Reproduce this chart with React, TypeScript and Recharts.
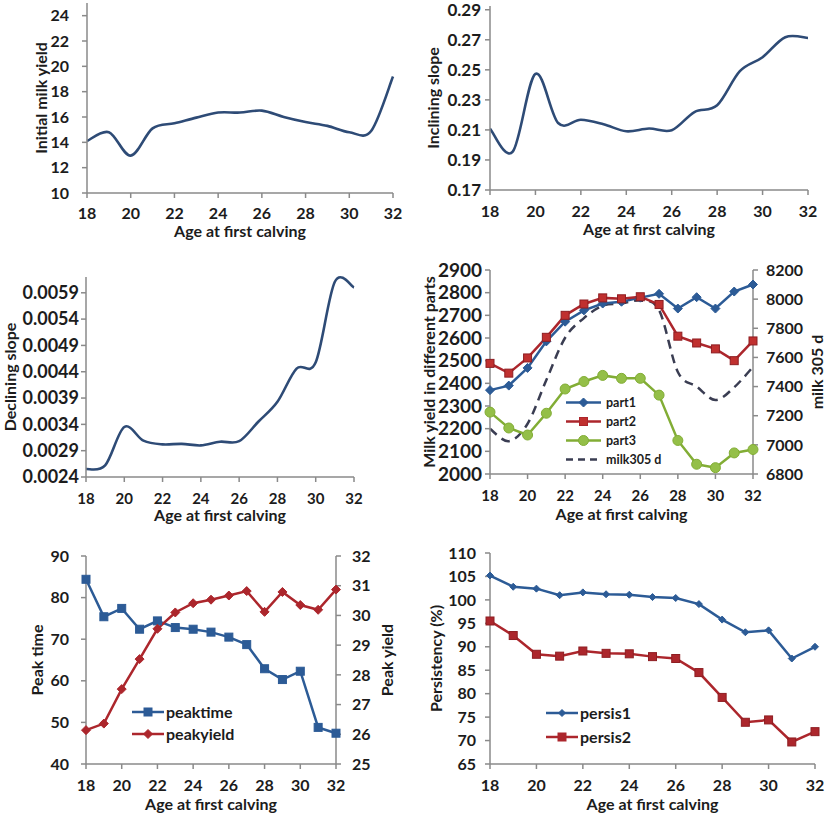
import React from 'react';
import { LineChart, Line, XAxis, YAxis, Legend } from 'recharts';

// ---------- data ----------
const ages = [18, 19, 20, 21, 22, 23, 24, 25, 26, 27, 28, 29, 30, 31, 32];
const xTicks = [18, 20, 22, 24, 26, 28, 30, 32];

const initialYield = [14.1, 14.8, 12.95, 15.1, 15.5, 15.95, 16.35, 16.35, 16.5, 16.0, 15.6, 15.3, 14.8, 14.9, 19.2];
const incliningSlope = [0.2109, 0.1955, 0.2473, 0.2146, 0.2168, 0.2138, 0.2091, 0.2109, 0.2098, 0.2219, 0.2264, 0.2491, 0.2584, 0.2717, 0.2712];
const decliningSlope = [0.00255, 0.00262, 0.00335, 0.00309, 0.00302, 0.00303, 0.003, 0.00307, 0.00308, 0.00345, 0.00383, 0.00446, 0.00458, 0.00611, 0.006];

const part1 = [2370, 2390, 2468, 2585, 2672, 2722, 2752, 2760, 2778, 2795, 2730, 2780, 2730, 2805, 2836];
const part2 = [2488, 2445, 2512, 2603, 2700, 2750, 2777, 2773, 2782, 2748, 2608, 2578, 2552, 2500, 2587];
const part3 = [2273, 2203, 2172, 2268, 2375, 2408, 2435, 2422, 2422, 2348, 2148, 2043, 2028, 2093, 2108];
const milk305 = [7110, 7025, 7145, 7445, 7735, 7870, 7955, 7970, 7990, 7925, 7500, 7400, 7308, 7395, 7535];

const peakTime = [84.4, 75.4, 77.4, 72.4, 74.4, 72.8, 72.4, 71.7, 70.5, 68.7, 62.9, 60.3, 62.3, 48.8, 47.4];
const peakYield = [26.14, 26.36, 27.52, 28.53, 29.55, 30.1, 30.41, 30.53, 30.67, 30.82, 30.12, 30.79, 30.35, 30.19, 30.87];

const persis1 = [105.2, 102.8, 102.4, 101.0, 101.6, 101.2, 101.1, 100.6, 100.4, 99.1, 95.8, 93.1, 93.5, 87.5, 90.0];
const persis2 = [95.5, 92.4, 88.4, 88.0, 89.1, 88.6, 88.5, 87.9, 87.5, 84.5, 79.2, 73.9, 74.4, 69.7, 71.9];

const initialTicks = [10, 12, 14, 16, 18, 20, 22, 24];
const incliningTicks = [0.17, 0.19, 0.21, 0.23, 0.25, 0.27, 0.29];
const decliningTicks = [0.0024, 0.0029, 0.0034, 0.0039, 0.0044, 0.0049, 0.0054, 0.0059];
const partTicks = [2000, 2100, 2200, 2300, 2400, 2500, 2600, 2700, 2800, 2900];
const milkTicks = [6800, 7000, 7200, 7400, 7600, 7800, 8000, 8200];
const peakTimeTicks = [40, 50, 60, 70, 80, 90];
const peakYieldTicks = [25, 26, 27, 28, 29, 30, 31, 32];
const persisTicks = [65, 70, 75, 80, 85, 90, 95, 100, 105, 110];

const xTitle = 'Age at first calving';

const data = ages.map((age, i) => ({
  age,
  initial: initialYield[i],
  inclining: incliningSlope[i],
  declining: decliningSlope[i],
  part1: part1[i],
  part2: part2[i],
  part3: part3[i],
  milk305: milk305[i],
  peaktime: peakTime[i],
  peakyield: peakYield[i],
  persis1: persis1[i],
  persis2: persis2[i],
}));

// ---------- styles ----------
const TEXT = '#1c1c1c';
const AXIS = '#8a8a8a';
const NAVY = '#2E4B76';
const BLUE = '#2C5B96';
const RED = '#AC262C';
const GREEN = '#82AD35';
const DASH = '#3A3D52';

// Excel-like smoothed line (Catmull-Rom through the points)
const smoothCurve = (context: any) => {
  let pts: number[][] = [];
  return {
    areaStart() {},
    areaEnd() {},
    lineStart() {
      pts = [];
    },
    lineEnd() {
      const n = pts.length;
      if (!n) return;
      context.moveTo(pts[0][0], pts[0][1]);
      for (let i = 0; i < n - 1; i++) {
        const p0 = pts[i > 0 ? i - 1 : i];
        const p1 = pts[i];
        const p2 = pts[i + 1];
        const p3 = pts[i + 2 < n ? i + 2 : i + 1];
        context.bezierCurveTo(
          p1[0] + (p2[0] - p0[0]) / 6,
          p1[1] + (p2[1] - p0[1]) / 6,
          p2[0] - (p3[0] - p1[0]) / 6,
          p2[1] - (p3[1] - p1[1]) / 6,
          p2[0],
          p2[1]
        );
      }
    },
    point(x: number, y: number) {
      pts.push([+x, +y]);
    },
  };
};

// ---------- markers ----------
const diamondPath = (cx: number, cy: number, s: number) =>
  `M${cx},${cy - s}L${cx + s},${cy}L${cx},${cy + s}L${cx - s},${cy}Z`;

const Marker = ({ shape, cx, cy, size, color, fill }: any) => {
  if (shape === 'diamond') return <path d={diamondPath(cx, cy, size / 2)} fill={fill} stroke={color} strokeWidth={1} />;
  if (shape === 'square')
    return <rect x={cx - size / 2} y={cy - size / 2} width={size} height={size} fill={fill} stroke={color} strokeWidth={1} />;
  return <circle cx={cx} cy={cy} r={size / 2} fill={fill} stroke={color} strokeWidth={1} />;
};

const dotRenderer = (shape: string, size: number, color: string, fill: string) => (props: any) => {
  const { cx, cy, index } = props;
  if (cx == null || cy == null) return <g key={`d${index}`} />;
  return <Marker key={`d${index}`} shape={shape} cx={cx} cy={cy} size={size} color={color} fill={fill} />;
};

// ---------- legend ----------
type LegendItem = { name: string; color: string; shape?: string; size?: number; fill?: string; dashed?: boolean };

const legend4: LegendItem[] = [
  { name: 'part1', color: BLUE, shape: 'diamond', size: 9, fill: BLUE },
  { name: 'part2', color: RED, shape: 'square', size: 8, fill: '#C0302F' },
  { name: 'part3', color: GREEN, shape: 'circle', size: 10, fill: '#94BF48' },
  { name: 'milk305 d', color: DASH, dashed: true },
];
const legend5: LegendItem[] = [
  { name: 'peaktime', color: BLUE, shape: 'square', size: 8, fill: BLUE },
  { name: 'peakyield', color: RED, shape: 'diamond', size: 9, fill: RED },
];
const legend6: LegendItem[] = [
  { name: 'persis1', color: BLUE, shape: 'diamond', size: 7, fill: BLUE },
  { name: 'persis2', color: RED, shape: 'square', size: 8, fill: RED },
];

const LegendBox = ({ items, rowGap, lineLen, fontSize, textGap }: any) => {
  const h = rowGap * items.length + 4;
  return (
    <svg width={180} height={h} style={{ overflow: 'visible', display: 'block' }}>
      {items.map((it: LegendItem, i: number) => {
        const y = rowGap / 2 + i * rowGap;
        return (
          <g key={it.name}>
            <line
              x1={0}
              y1={y}
              x2={lineLen}
              y2={y}
              stroke={it.color}
              strokeWidth={2.5}
              strokeDasharray={it.dashed ? '7 5' : undefined}
            />
            {it.shape ? (
              <Marker shape={it.shape} cx={lineLen / 2} cy={y} size={it.size} color={it.color} fill={it.fill} />
            ) : null}
            <text
              x={lineLen + textGap}
              y={y}
              dy="0.35em"
              fontSize={fontSize}
              fontWeight={700}
              fill={TEXT}
              fontFamily="Lato, sans-serif"
            >
              {it.name}
            </text>
          </g>
        );
      })}
    </svg>
  );
};

// ---------- axis helpers ----------
const axisCommon = {
  axisLine: { stroke: AXIS, strokeWidth: 1.5 },
  tickLine: { stroke: AXIS, strokeWidth: 1.5 },
  tickSize: 5,
};
const tickStyle = (fontSize: number) => ({ fontSize, fontWeight: 700, fill: TEXT });

const xAxisProps = (height: number, fontSize: number, labelOffset: number, tickMargin = 11) => ({
  dataKey: 'age',
  type: 'number' as const,
  domain: [18, 32],
  ticks: xTicks,
  interval: 0 as const,
  height,
  tickMargin,
  tick: tickStyle(fontSize),
  ...axisCommon,
  label: {
    value: xTitle,
    position: 'insideTop' as const,
    offset: labelOffset,
    fontSize: 16,
    fontWeight: 700,
    fill: TEXT,
  },
});

const yLabel = (value: string, offset: number, right = false) => ({
  value,
  angle: -90,
  position: right ? ('insideRight' as const) : ('insideLeft' as const),
  offset,
  fontSize: 16,
  fontWeight: 700,
  fill: TEXT,
  style: { textAnchor: 'middle' },
});

// ---------- panels ----------
// Panels 1 and 2 are shifted up by 12px (container top -12) so top tick labels are not clipped.
const Panel1 = () => (
  <LineChart width={413} height={252} data={data} margin={{ top: 15, right: 20, bottom: 0, left: 0 }}>
    <XAxis {...xAxisProps(47, 16, 33, 10)} />
    <YAxis
      type="number"
      domain={[10, 25]}
      ticks={initialTicks}
      interval={0}
      width={87}
      tickMargin={13}
      tick={tickStyle(16)}
      {...axisCommon}
      label={yLabel('Initial milk yield', 41)}
    />
    <Line dataKey="initial" type={smoothCurve as any} stroke={NAVY} strokeWidth={2.6} dot={false} isAnimationActive={false} />
  </LineChart>
);

const Panel2 = () => (
  <LineChart width={413} height={252} data={data} margin={{ top: 18, right: 19, bottom: 0, left: 0 }}>
    <XAxis {...xAxisProps(50, 16, 34)} />
    <YAxis
      type="number"
      domain={[0.17, 0.2925]}
      ticks={incliningTicks}
      interval={0}
      width={76}
      tickMargin={4}
      tick={tickStyle(17)}
      tickFormatter={(v: number) => v.toFixed(2)}
      {...axisCommon}
      label={yLabel('Inclining slope', 19)}
    />
    <Line dataKey="inclining" type={smoothCurve as any} stroke={NAVY} strokeWidth={2.6} dot={false} isAnimationActive={false} />
  </LineChart>
);

const Panel3 = () => (
  <LineChart width={400} height={280} data={data} margin={{ top: 27, right: 46, bottom: 0, left: 0 }}>
    <XAxis {...xAxisProps(53, 15, 33)} />
    <YAxis
      type="number"
      domain={[0.0024, 0.0062]}
      ticks={decliningTicks}
      interval={0}
      width={86}
      tickMargin={2}
      tick={tickStyle(18)}
      tickFormatter={(v: number) => v.toFixed(4)}
      {...axisCommon}
      label={yLabel('Declining slope', 10)}
    />
    <Line dataKey="declining" type={smoothCurve as any} stroke={NAVY} strokeWidth={2.6} dot={false} isAnimationActive={false} />
  </LineChart>
);

const Panel4 = () => (
  <LineChart width={413} height={280} data={data} margin={{ top: 20, right: 0, bottom: 0, left: 0 }}>
    <XAxis {...xAxisProps(56, 15, 35)} />
    <YAxis
      yAxisId="l"
      type="number"
      domain={[2000, 2900]}
      ticks={partTicks}
      interval={0}
      width={76}
      tickMargin={3}
      tick={tickStyle(19)}
      {...axisCommon}
      label={yLabel('Milk yield in different parts', 15)}
    />
    <YAxis
      yAxisId="r"
      orientation="right"
      type="number"
      domain={[6800, 8200]}
      ticks={milkTicks}
      interval={0}
      width={74}
      tickMargin={8}
      tick={tickStyle(16)}
      {...axisCommon}
      label={yLabel('milk 305 d', 10, true)}
    />
    <Line
      yAxisId="r"
      dataKey="milk305"
      type={smoothCurve as any}
      stroke={DASH}
      strokeWidth={2.5}
      strokeDasharray="9 6"
      dot={false}
      isAnimationActive={false}
    />
    <Line
      yAxisId="l"
      dataKey="part3"
      type="linear"
      stroke={GREEN}
      strokeWidth={2.5}
      dot={dotRenderer('circle', 10, GREEN, '#94BF48')}
      isAnimationActive={false}
    />
    <Line
      yAxisId="l"
      dataKey="part1"
      type="linear"
      stroke={BLUE}
      strokeWidth={2.5}
      dot={dotRenderer('diamond', 9, BLUE, BLUE)}
      isAnimationActive={false}
    />
    <Line
      yAxisId="l"
      dataKey="part2"
      type="linear"
      stroke={RED}
      strokeWidth={2.5}
      dot={dotRenderer('square', 8, '#8E1E22', '#C0302F')}
      isAnimationActive={false}
    />
    <Legend
      layout="vertical"
      align="center"
      verticalAlign="middle"
      wrapperStyle={{ left: 152, top: 143, width: 180, height: 80 }}
      content={() => <LegendBox items={legend4} rowGap={19} lineLen={35} fontSize={12.5} textGap={5} />}
    />
  </LineChart>
);

const Panel5 = () => (
  <LineChart width={400} height={285} data={data} margin={{ top: 26, right: 0, bottom: 0, left: 0 }}>
    <XAxis {...xAxisProps(51, 16, 35)} />
    <YAxis
      yAxisId="l"
      type="number"
      domain={[40, 90]}
      ticks={peakTimeTicks}
      interval={0}
      width={86}
      tickMargin={12}
      tick={tickStyle(16)}
      {...axisCommon}
      label={yLabel('Peak time', 37)}
    />
    <YAxis
      yAxisId="r"
      orientation="right"
      type="number"
      domain={[25, 32]}
      ticks={peakYieldTicks}
      interval={0}
      width={64}
      tickMargin={11}
      tick={tickStyle(16)}
      {...axisCommon}
      label={yLabel('Peak yield', 13, true)}
    />
    <Line
      yAxisId="l"
      dataKey="peaktime"
      type="linear"
      stroke={BLUE}
      strokeWidth={2.5}
      dot={dotRenderer('square', 8, BLUE, BLUE)}
      isAnimationActive={false}
    />
    <Line
      yAxisId="r"
      dataKey="peakyield"
      type="linear"
      stroke={RED}
      strokeWidth={2.5}
      dot={dotRenderer('diamond', 9, RED, RED)}
      isAnimationActive={false}
    />
    <Legend
      layout="vertical"
      align="center"
      verticalAlign="middle"
      wrapperStyle={{ left: 132, top: 171, width: 180, height: 50 }}
      content={() => <LegendBox items={legend5} rowGap={22} lineLen={32} fontSize={16} textGap={2} />}
    />
  </LineChart>
);

const Panel6 = () => (
  <LineChart width={413} height={285} data={data} margin={{ top: 23, right: 12, bottom: 0, left: 0 }}>
    <XAxis {...xAxisProps(51, 16, 35)} />
    <YAxis
      type="number"
      domain={[65, 110]}
      ticks={persisTicks}
      interval={0}
      width={76}
      tickMargin={9}
      tick={tickStyle(16)}
      {...axisCommon}
      label={yLabel('Persistency (%)', 22)}
    />
    <Line
      dataKey="persis1"
      type="linear"
      stroke={BLUE}
      strokeWidth={2.5}
      dot={dotRenderer('diamond', 7, BLUE, BLUE)}
      isAnimationActive={false}
    />
    <Line
      dataKey="persis2"
      type="linear"
      stroke={RED}
      strokeWidth={2.5}
      dot={dotRenderer('square', 8, '#8E1E22', RED)}
      isAnimationActive={false}
    />
    <Legend
      layout="vertical"
      align="center"
      verticalAlign="middle"
      wrapperStyle={{ left: 132, top: 171, width: 180, height: 50 }}
      content={() => <LegendBox items={legend6} rowGap={24} lineLen={32} fontSize={16} textGap={2} />}
    />
  </LineChart>
);

export default function App() {
  const box = (left: number, top: number): React.CSSProperties => ({ position: 'absolute', left, top });
  return (
    <div
      style={{
        position: 'absolute',
        left: 0,
        top: 0,
        width: 827,
        height: 815,
        background: '#ffffff',
        fontFamily: 'Lato, sans-serif',
        overflow: 'hidden',
      }}
    >
      <div style={box(0, -12)}>
        <Panel1 />
      </div>
      <div style={box(414, -12)}>
        <Panel2 />
      </div>
      <div style={box(0, 250)}>
        <Panel3 />
      </div>
      <div style={box(414, 250)}>
        <Panel4 />
      </div>
      <div style={box(0, 530)}>
        <Panel5 />
      </div>
      <div style={box(414, 530)}>
        <Panel6 />
      </div>
    </div>
  );
}
